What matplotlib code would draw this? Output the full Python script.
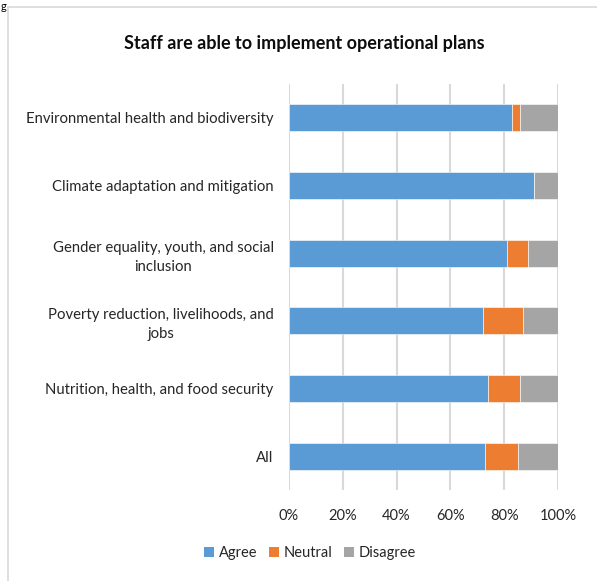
import matplotlib
matplotlib.use("Agg")
import matplotlib.pyplot as plt
from matplotlib.patches import Patch
from matplotlib.lines import Line2D

categories = [
    "All",
    "Nutrition, health, and food security",
    "Poverty reduction, livelihoods, and\njobs",
    "Gender equality, youth, and social\ninclusion",
    "Climate adaptation and mitigation",
    "Environmental health and biodiversity",
]
agree = [73, 74, 72, 81, 91, 83]
neutral = [12, 12, 15, 8, 0, 3]
disagree = [15, 14, 13, 11, 9, 14]

series_names = ["Agree", "Neutral", "Disagree"]
colors = ["#5B9BD5", "#ED7D31", "#A5A5A5"]
x_ticks = [0, 20, 40, 60, 80, 100]
x_tick_labels = ["0%", "20%", "40%", "60%", "80%", "100%"]

plt.rcParams["font.family"] = ["Lato", "DejaVu Sans"]

W, H = 597, 581
fig = plt.figure(figsize=(W / 100, H / 100), dpi=100)
ax = fig.add_axes([289 / W, 1 - 490 / H, (558 - 289) / W, (490 - 84) / H])

ypos = list(range(len(categories)))
left = [0] * len(categories)
for name, vals, col in zip(series_names, [agree, neutral, disagree], colors):
    ax.barh(ypos, vals, left=left, height=0.4, color=col,
            edgecolor="white", linewidth=0.4, zorder=3, label=name)
    left = [l + v for l, v in zip(left, vals)]

ax.set_xlim(0, 100)
ax.set_ylim(-0.5, len(categories) - 0.5)
ax.set_xticks(x_ticks)
ax.set_xticklabels(x_tick_labels, fontsize=10.5, color="#262626")
ax.set_yticks(ypos)
ax.set_yticklabels(categories, fontsize=10.7, color="#262626",
                   multialignment="center", linespacing=1.45)
ax.tick_params(axis="both", length=0)
ax.tick_params(axis="x", pad=14)
ax.tick_params(axis="y", pad=11)
ax.grid(axis="x", color="#D9D9D9", linewidth=1.5, zorder=0)
for s in ax.spines.values():
    s.set_visible(False)

fig.text(304 / W, 1 - 43 / H, "Staff are able to implement operational plans",
         ha="center", va="center", fontsize=13, fontweight="bold",
         color="#0D0D0D")

handles = [Patch(facecolor=c, edgecolor="none") for c in colors]
fig.legend(handles, series_names, loc="center", bbox_to_anchor=(310 / W, 1 - 553 / H),
           ncol=3, frameon=False, fontsize=10.5, handlelength=0.7, handleheight=0.7,
           handletextpad=0.3, columnspacing=0.8, labelcolor="#262626")

# outer chart frame (top and left edges)
fig.add_artist(Line2D([8 / W, 1], [1 - 7 / H, 1 - 7 / H], color="#D9D9D9",
                      linewidth=1.2, transform=fig.transFigure))
fig.add_artist(Line2D([8 / W, 8 / W], [0, 1 - 7 / H], color="#D9D9D9",
                      linewidth=1.2, transform=fig.transFigure))
fig.text(1 / W, 1 - 0.5 / H, "g", ha="left", va="top", fontsize=8,
         color="#000000")

fig.savefig("out.png", dpi=100, facecolor="white")
